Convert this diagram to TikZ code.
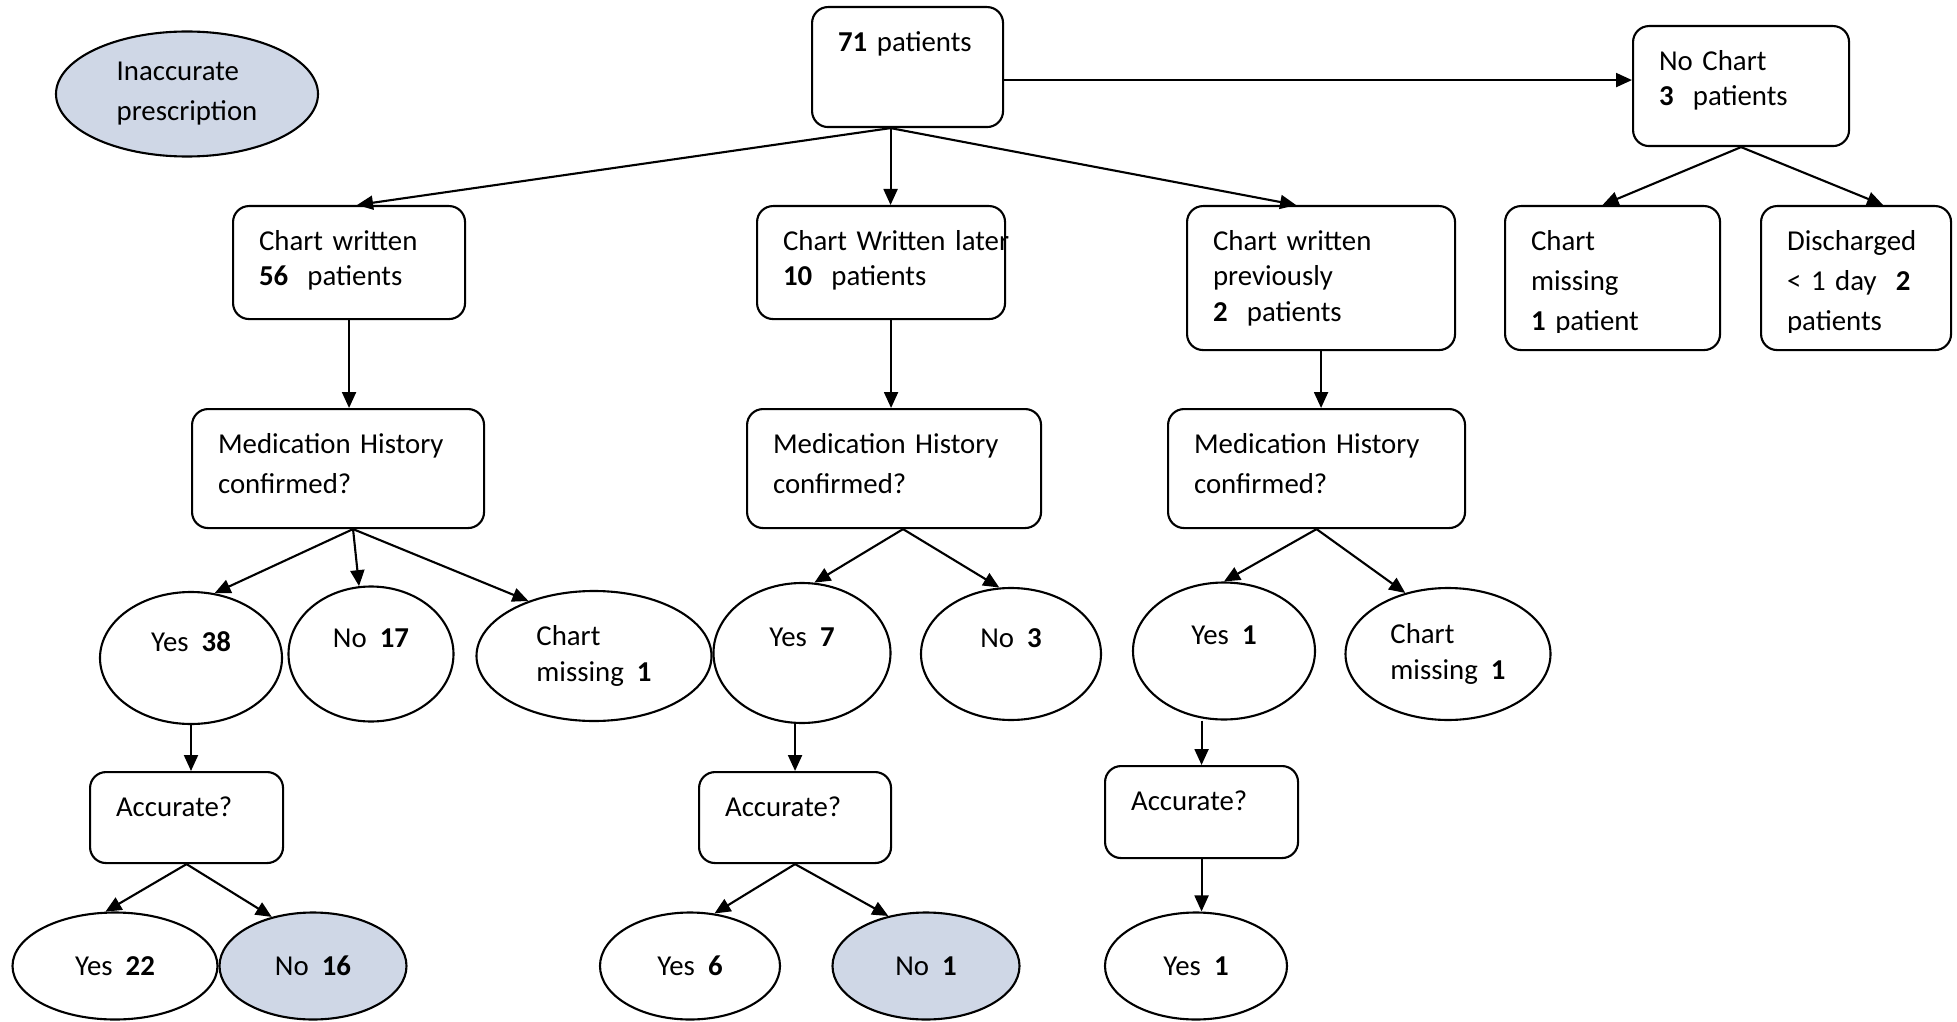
\documentclass[tikz,border=0pt]{standalone}
\usepackage{fontspec}
\setmainfont{Carlito}
\usetikzlibrary{shapes.geometric, arrows.meta}
\definecolor{errfill}{RGB}{207,215,230}
\begin{document}
\begin{tikzpicture}[>={Triangle[length=0.16cm,width=0.14cm]}, line width=0.6pt,
	font=\fontsize{8.2}{11.4}\selectfont,
	box/.style = {draw, rounded corners=0.16cm, anchor=north west, align=left, inner xsep=0.26cm, inner ysep=0pt, text height=0.44cm},
	oval/.style = {draw, ellipse, inner sep=0pt, align=left},
	lifted/.style = {text height=0.2cm, text depth=0.34cm},
	closer/.style = {font=\fontsize{8.2}{10.2}\selectfont}]
	\useasboundingbox (0,0) rectangle (19.57,-10.22);
	
	\node[oval, fill=errfill, minimum width=2.62cm, minimum height=1.25cm] (1) at (1.87,-0.94) {Inaccurate\\prescription};
	\node[box, text width=1.39cm, text depth=0.76cm] (2) at (8.11,-0.06) {\textbf{71} patients};
	\node[box, closer, text width=1.64cm, text depth=0.76cm] (3) at (16.32,-0.25) {No Chart\\\textbf{3}~~patients};
	
	\node[box, closer, text width=1.80cm, text depth=0.69cm] (4) at (2.32,-2.05) {Chart written\\\textbf{56}~~patients};
	\node[box, closer, text width=1.96cm, text depth=0.69cm] (5) at (7.56,-2.05) {\mbox{Chart Written later}\\\textbf{10}~~patients};
	\node[box, closer, text width=2.16cm, text depth=1.00cm] (6) at (11.86,-2.05) {Chart written\\previously\\\textbf{2}~~patients};
	\node[box, text width=1.63cm, text depth=1.00cm] (7) at (15.04,-2.05) {};
	\node[box, text width=1.38cm, text depth=1.00cm] (8) at (17.60,-2.05) {};
	\begin{scope}
		\clip (7.north west) rectangle ([yshift=0.19cm]8.south east);
		\node[box, draw=none, text width=1.63cm, text depth=1.00cm] (7t) at (7.north west) {Chart\\missing\\\textbf{1} patient};
		\node[box, draw=none, text width=1.38cm, text depth=1.00cm] (8t) at (8.north west) {Discharged\\<~1 day~~\textbf{2}\\patients};
	\end{scope}
	
	\node[box, text width=2.40cm, text depth=0.75cm] (9) at (1.91,-4.08) {Medication History\\confirmed?};
	\node[box, text width=2.42cm, text depth=0.75cm] (10) at (7.46,-4.08) {Medication History\\confirmed?};
	\node[box, text width=2.45cm, text depth=0.75cm] (11) at (11.67,-4.08) {Medication History\\confirmed?};
	
	\node[oval, lifted, minimum width=1.82cm, minimum height=1.32cm] (12) at (1.91,-6.58) {Yes~~\textbf{38}};
	\node[oval, lifted, minimum width=1.65cm, minimum height=1.35cm] (13) at (3.71,-6.54) {No~~\textbf{17}};
	\node[oval, closer, minimum width=2.35cm, minimum height=1.30cm] (14) at (5.94,-6.56) {Chart\\missing~~\textbf{1}};
	\node[oval, lifted, minimum width=1.77cm, minimum height=1.40cm] (15) at (8.02,-6.53) {Yes~~\textbf{7}};
	\node[oval, lifted, minimum width=1.80cm, minimum height=1.32cm] (16) at (10.11,-6.54) {No~~\textbf{3}};
	\node[oval, lifted, minimum width=1.82cm, minimum height=1.37cm] (17) at (12.24,-6.51) {Yes~~\textbf{1}};
	\node[oval, closer, minimum width=2.05cm, minimum height=1.32cm] (18) at (14.48,-6.54) {Chart\\missing~~\textbf{1}};
	
	\node[box, text width=1.41cm, text depth=0.47cm] (19) at (0.89,-7.71) {Accurate?};
	\node[box, text width=1.40cm, text depth=0.47cm] (20) at (6.98,-7.71) {Accurate?};
	\node[box, text width=1.41cm, text depth=0.48cm] (21) at (11.04,-7.65) {Accurate?};
	
	\node[oval, minimum width=2.05cm, minimum height=1.07cm] (22) at (1.15,-9.66) {Yes~~\textbf{22}};
	\node[oval, fill=errfill, minimum width=1.87cm, minimum height=1.07cm] (23) at (3.13,-9.66) {No~~\textbf{16}};
	\node[oval, minimum width=1.80cm, minimum height=1.07cm] (24) at (6.90,-9.66) {Yes~~\textbf{6}};
	\node[oval, fill=errfill, minimum width=1.87cm, minimum height=1.07cm] (25) at (9.26,-9.66) {No~~\textbf{1}};
	\node[oval, minimum width=1.82cm, minimum height=1.07cm] (26) at (11.96,-9.66) {Yes~~\textbf{1}};
	
	\draw[->] ([xshift=-0.17cm]2.south) -- ([xshift=0.08cm]4.north);
	\draw[->] ([xshift=-0.17cm]2.south) -- ([xshift=-0.17cm]2.south |- 5.north);
	\draw[->] ([xshift=-0.17cm]2.south) -- ([xshift=-0.25cm]6.north);
	\draw[->] ([yshift=-0.13cm]2.east) -- ([yshift=-0.13cm]2.east -| 3.west);
	\draw[->] (3.south) -- ([xshift=-0.10cm]7.north);
	\draw[->] (3.south) -- ([xshift=0.27cm]8.north);
	\draw[->] (4.south) -- (4.south |- 9.north);
	\draw[->] ([xshift=0.10cm]5.south) -- ([xshift=0.10cm]5.south |- 10.north);
	\draw[->] (6.south) -- (6.south |- 11.north);
	\draw[->] ([xshift=0.15cm]9.south) -- (12.70);
	\draw[->] ([xshift=0.15cm]9.south) -- (13.100);
	\draw[->] ([xshift=0.15cm]9.south) -- (14.140);
	\draw[->] ([xshift=0.09cm]10.south) -- (15.80);
	\draw[->] ([xshift=0.09cm]10.south) -- (16.100);
	\draw[->] (11.south) -- (17.north);
	\draw[->] (11.south) -- (18.125);
	\draw[->] (12.south) -- (12.south |- 19.north);
	\draw[->] (20.north |- 15.south) -- (20.north);
	\draw[->] (21.north |- 17.south) -- (21.north);
	\draw[->] (19.south) -- (22.100);
	\draw[->] (19.south) -- (23.130);
	\draw[->] (20.south) -- (24.65);
	\draw[->] (20.south) -- (25.127);
	\draw[->] (21.south) -- (21.south |- 26.north);
	
\end{tikzpicture}
\end{document}
